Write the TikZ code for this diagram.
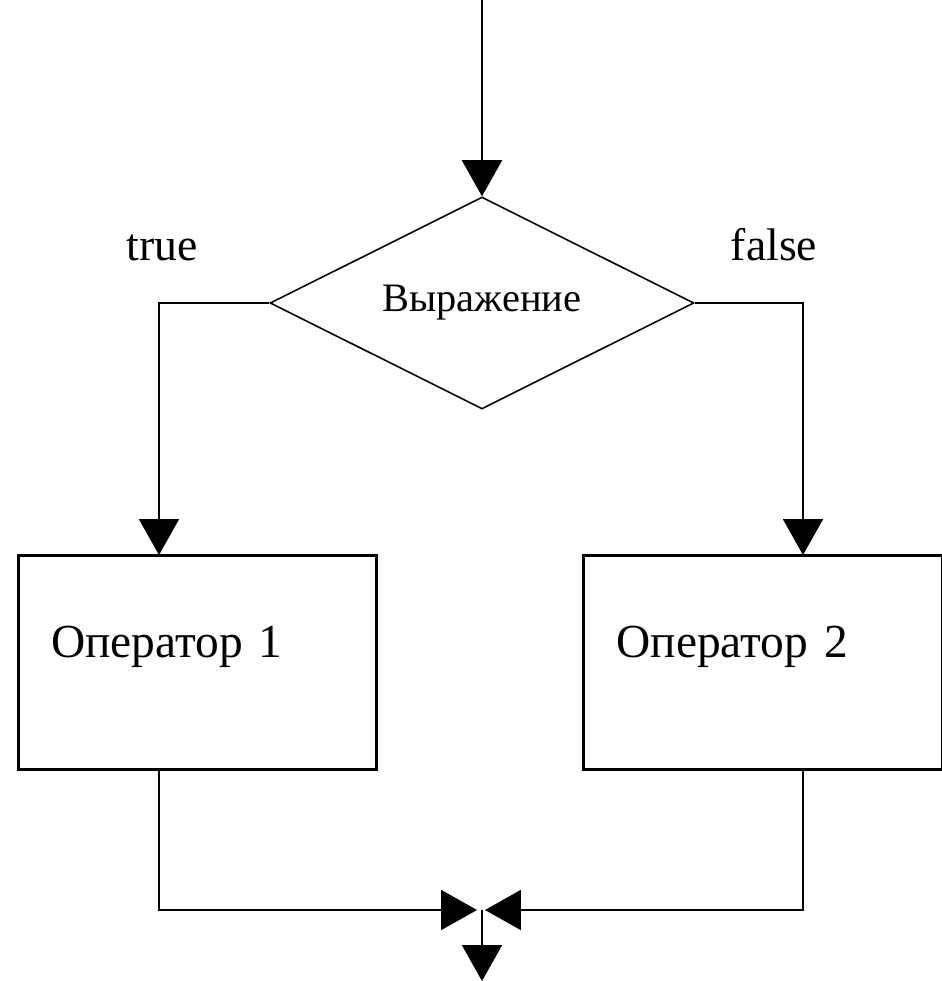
\documentclass[tikz,border=0pt]{standalone}
\usepackage{fontspec}
\setmainfont{Liberation Serif}
\usetikzlibrary{shapes.geometric,arrows.meta}

\begin{document}
\begin{tikzpicture}[x=0.02cm,y=-0.02cm]
	\tikzset{flow/.style={line width=1.2pt, -{Triangle[length=0.72cm,width=0.8cm]}}}
	\tikzset{opbox/.style={rectangle, draw=black, line width=1.7pt, minimum width=7.18cm, minimum height=4.3cm, text width=5.86cm, align=left, inner xsep=0.66cm, text height=19pt, text depth=25pt, font=\fontsize{27pt}{32pt}\selectfont}}
	\tikzset{cond/.style={diamond, aspect=2, draw=black, line width=0.9pt, minimum width=8.48cm, minimum height=4.24cm, inner sep=0pt, font=\fontsize{23pt}{27pt}\selectfont}}
	\tikzset{branch/.style={anchor=base, font=\fontsize{26pt}{30pt}\selectfont}}
	\useasboundingbox (0,0) rectangle (941,981);

	%---NODES---
	\node[cond] (test) at (482,303) {Выражение};
	\node[opbox] (op1) at (197.5,662.5) {Оператор 1};
	\node[opbox, minimum width=7.08cm] (op2) at (763,662.5) {Оператор 2};

	\node[branch] (yes) at (162,260) {true};
	\node[branch] (no) at (774,260) {false};

	\coordinate (enter) at (482,0);
	\coordinate (in1) at (159,555);
	\coordinate (in2) at (803,555);
	\coordinate (out1) at (159,770);
	\coordinate (out2) at (803,770);
	\coordinate (join) at (482,910);
	\coordinate (exit) at (482,981);

	%---EDGES---
	\draw[flow] (enter) -- (test.north) ;
	\draw[flow] (test.west) -| (in1) ;
	\draw[flow] (test.east) -| (in2) ;
	\draw[flow, shorten >=0.1cm] (out1) |- (join) ;
	\draw[flow, shorten >=0.06cm] (out2) |- (join) ;
	\draw[flow] (join) -- (exit) ;
\end{tikzpicture}
\end{document}
